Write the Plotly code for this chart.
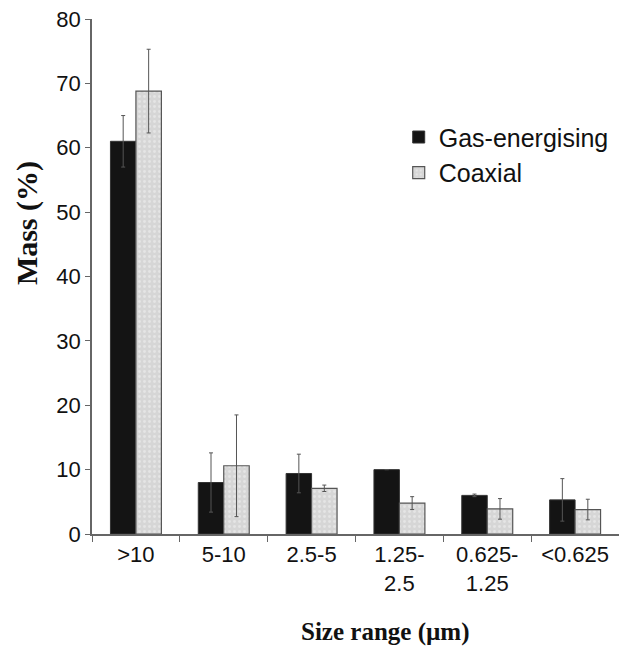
import plotly.graph_objects as go

categories = [">10", "5-10", "2.5-5", "1.25-<br>2.5", "0.625-<br>1.25", "<0.625"]
gas_values = [61.0, 8.0, 9.4, 10.0, 6.0, 5.3]
gas_errors = [4.0, 4.6, 3.0, 0.0, 0.2, 3.3]
coax_values = [68.8, 10.6, 7.1, 4.8, 3.9, 3.8]
coax_errors = [6.5, 7.9, 0.5, 1.0, 1.6, 1.6]
y_ticks = [0, 10, 20, 30, 40, 50, 60, 70, 80]

fig = go.Figure()
fig.add_trace(go.Bar(
    x=categories, y=gas_values, name="Gas-energising",
    marker=dict(color="#141414", line=dict(color="#333333", width=1)),
    error_y=dict(type="data", array=gas_errors, visible=True,
                 color="#555555", thickness=1, width=2),
))
fig.add_trace(go.Bar(
    x=categories, y=coax_values, name="Coaxial",
    marker=dict(color="#dcdcdc", line=dict(color="#555555", width=1.2),
                pattern=dict(shape=".", fgcolor="#f4f4f4", bgcolor="#d6d6d6",
                             size=5, solidity=0.25)),
    error_y=dict(type="data", array=coax_errors, visible=True,
                 color="#555555", thickness=1, width=2),
))

serif = "Liberation Serif, Times New Roman, serif"
fig.update_layout(
    width=619, height=647,
    margin=dict(l=92, r=0, t=19, b=113),
    paper_bgcolor="white", plot_bgcolor="white",
    barmode="group", bargap=0.42, bargroupgap=0,
    font=dict(family="Liberation Sans, Arial, sans-serif", size=22, color="#111111"),
    showlegend=True,
    legend=dict(x=0.582, y=0.815, xanchor="left", yanchor="top",
                bgcolor="rgba(0,0,0,0)", font=dict(size=25),
                itemwidth=30, tracegroupgap=0),
    annotations=[
        dict(text="<b>Size range (µm)</b>", xref="paper", yref="paper",
             x=0.556, y=-0.190, xanchor="center", yanchor="middle",
             showarrow=False, font=dict(family=serif, size=25)),
        dict(text="<b>Mass (%)</b>", xref="paper", yref="paper",
             x=-0.123, y=0.604, xanchor="center", yanchor="middle",
             textangle=-90, showarrow=False, font=dict(family=serif, size=30)),
    ],
)
fig.update_xaxes(
    showline=True, linecolor="#666666", linewidth=1.5,
    ticks="outside", tickson="boundaries", ticklen=6, tickcolor="#666666",
    showgrid=False, automargin=False,
)
fig.update_yaxes(
    range=[0, 80], tickvals=y_ticks,
    showline=True, linecolor="#666666", linewidth=1.5,
    ticks="outside", ticklen=5, tickcolor="#666666",
    showgrid=False, zeroline=False, automargin=False,
)

fig.write_html("out.html", config={"displayModeBar": False},
               post_script="document.body.style.margin='0';")
